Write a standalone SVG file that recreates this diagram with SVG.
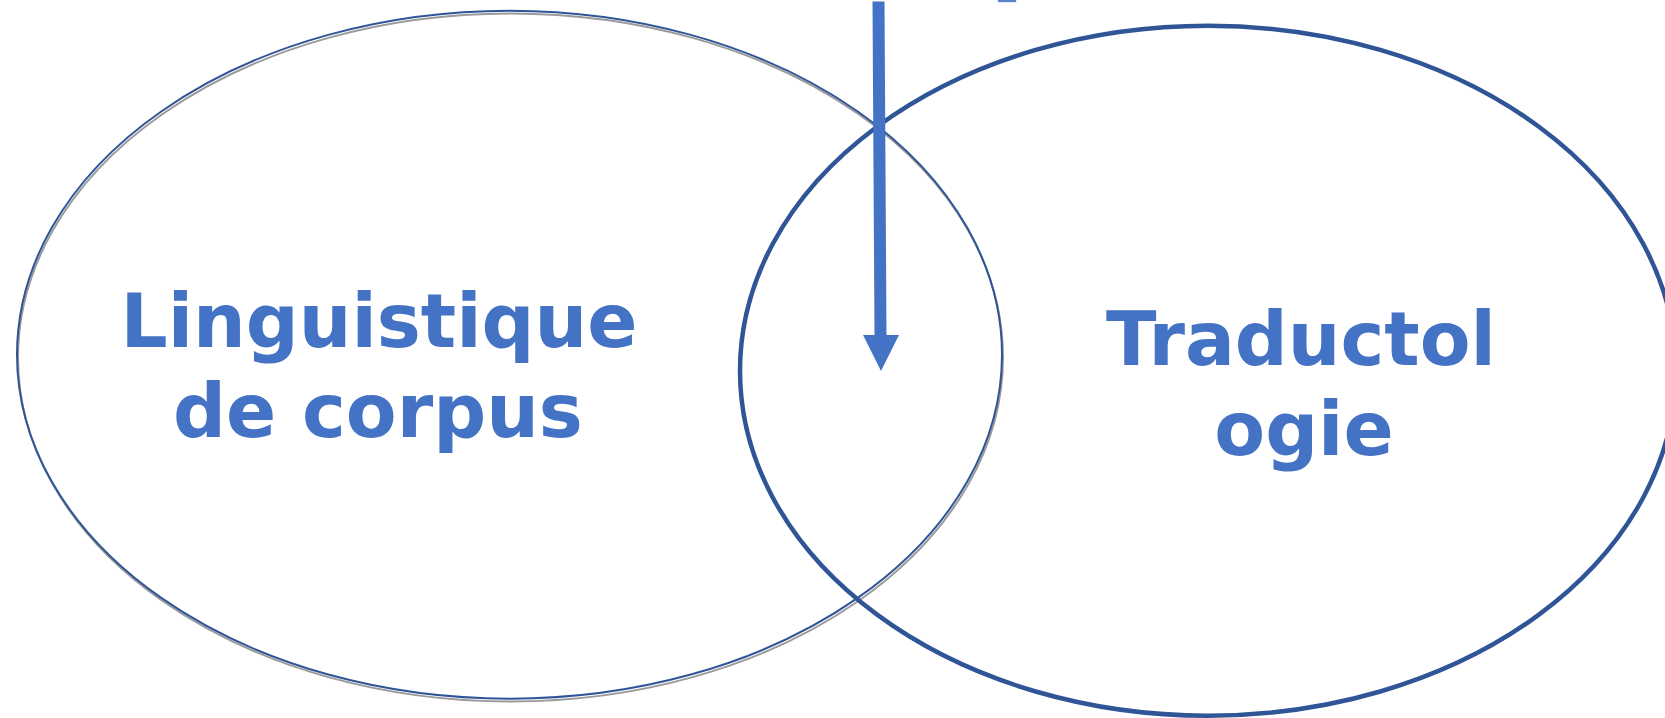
<svg xmlns="http://www.w3.org/2000/svg" width="1665" height="718" viewBox="0 0 1665 718">
<style>
.lbl{font-family:"DejaVu Sans",sans-serif;font-weight:bold;font-size:74px;fill:#4472C4;text-anchor:middle}
</style>
<rect width="1665" height="718" fill="#ffffff"/>
<g id="node-linguistique">
<ellipse cx="510.5" cy="357.5" rx="492.5" ry="344" fill="none" stroke="#9a9a9a" stroke-width="2"/>
<ellipse cx="509.5" cy="354.7" rx="492.5" ry="344" fill="none" stroke="#2F5597" stroke-width="2"/>
<text class="lbl" x="379" y="347">Linguistique</text>
<text class="lbl" x="378" y="437">de corpus</text>
</g>
<g id="node-traductologie">
<ellipse cx="1208" cy="370.7" rx="468" ry="345" fill="none" stroke="#2F5597" stroke-width="4.5"/>
<text class="lbl" x="1301" y="365">Traductol</text>
<text class="lbl" x="1304" y="455">ogie</text>
</g>
<g id="node-fragment">
<rect x="998" y="0" width="18" height="2" fill="#4472C4" stroke="#8fb0e8" stroke-width="0.5"/>
</g>
<g id="connectors">
<line x1="878.5" y1="1.5" x2="880.5" y2="336" stroke="#4472C4" stroke-width="12"/>
<polygon points="863,335 899,335 881,371" fill="#4472C4"/>
</g>
</svg>
